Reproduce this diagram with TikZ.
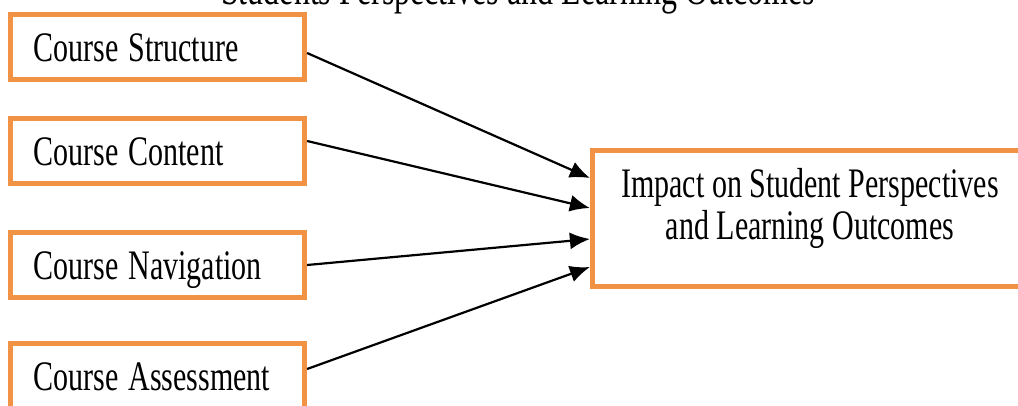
\documentclass[tikz,border=0pt]{standalone}
\usepackage{fontspec}
\setmainfont{Liberation Serif}
\usepackage{graphicx}
\usetikzlibrary{arrows.meta, calc}

\definecolor{boxorange}{RGB}{242,146,68}
\newcommand{\tallText}[1]{\scalebox{1}[1.4]{#1}}

\tikzset{
    factor/.style={draw=boxorange, line width=2.6pt, minimum width=147pt, minimum height=32.5pt,
        text width=124pt, align=left, inner xsep=11.5pt, text height=15pt, text depth=0pt,
        font=\fontsize{15}{18}\selectfont},
    outcome/.style={draw=boxorange, line width=2.6pt, minimum width=217.5pt, minimum height=68pt,
        align=center, text height=35pt, text depth=14pt, font=\fontsize{15}{21}\selectfont},
    link/.style={-{Latex[length=10pt, width=8.5pt]}, line width=1.1pt},
}

\begin{document}
\begin{tikzpicture}[x=0.5pt, y=-0.5pt]
    \useasboundingbox (0,0) rectangle (1018,406);
    \fill[white] (0,0) rectangle (1018,406);

    % title, cut by the top of the page
    \node[anchor=base, font=\fontsize{16}{19}\selectfont] (title) at (518, 4.5)
        {\tallText{Students Perspectives and Learning Outcomes}};

    \node[factor] (structure)  at (157.5, 47)  {\tallText{Course Structure}};
    \node[factor] (content)    at (157.5, 151) {\tallText{Course Content}};
    \node[factor] (navigation) at (157.5, 265) {\tallText{Course Navigation}};
    \node[factor] (assessment) at (157.5, 376) {\tallText{Course Assessment}};

    \node[outcome] (impact) at (810, 218.5)
        {\tallText{Impact on Student Perspectives}\\ \tallText{and Learning Outcomes}};

    \foreach \src/\dy/\ty in {structure/6/-40.5, content/-10/-10.5, navigation/0/20.5, assessment/-7/48.5}
        \draw[link] ($(\src.east)+(0,\dy)$) -- ($(impact.west)+(0,\ty)$);
\end{tikzpicture}
\end{document}
